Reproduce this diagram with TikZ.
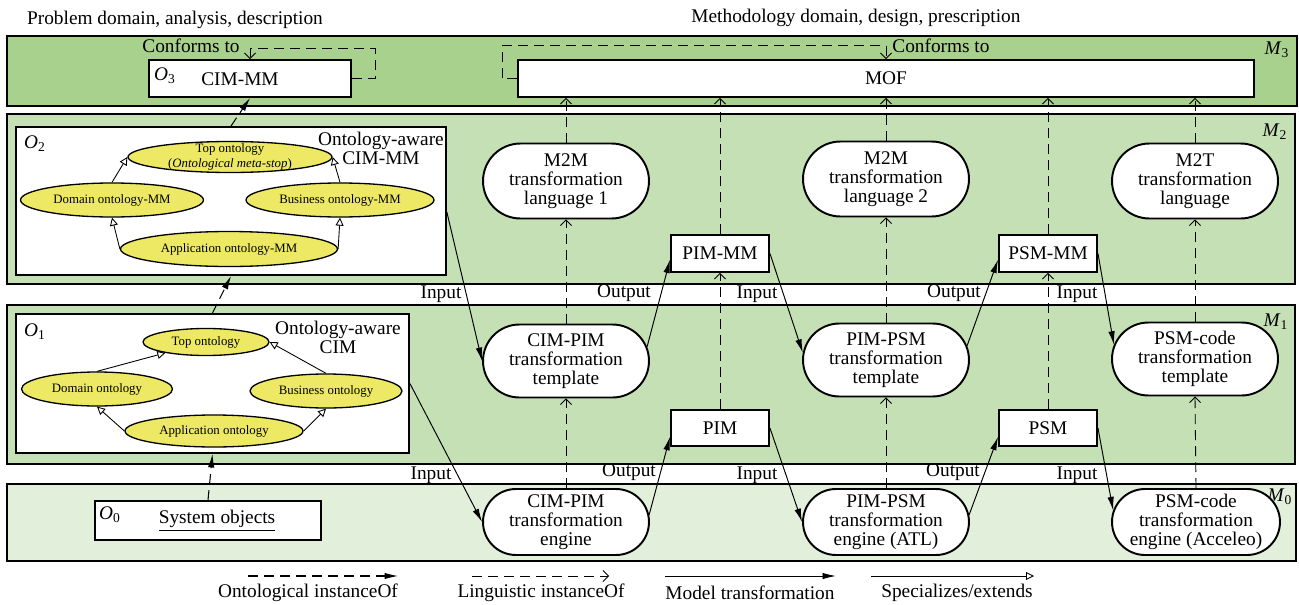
\documentclass[tikz,border=0pt]{standalone}
\usepackage{fontspec}
\setmainfont{Liberation Serif}
\usetikzlibrary{arrows.meta,positioning,shapes.geometric,shapes.misc}
\definecolor{bandthree}{HTML}{A9D18E}
\definecolor{bandtwo}{HTML}{C5E0B4}
\definecolor{bandzero}{HTML}{E2EFDA}
\definecolor{ontoyellow}{HTML}{EDE964}
\newcommand{\mainsize}{\fontsize{11}{10.9}\selectfont}
\newcommand{\ontosize}{\fontsize{7.3}{8.4}\selectfont}
\newcommand{\lvl}[2]{\textit{#1}\textsubscript{#2}}
\tikzset{
  band box/.style={draw=black, line width=1.2pt},
  white box/.style={draw=black, fill=white, line width=1.1pt, inner sep=0pt},
  pill box/.style={
    rounded rectangle,
    draw=black,
    fill=white,
    line width=1.1pt,
    minimum width=3.32cm,
    minimum height=1.5cm,
    inner sep=0pt,
    align=center,
    font=\mainsize,
  },
  onto ellipse/.style={
    ellipse,
    draw=black,
    fill=ontoyellow,
    line width=0.75pt,
    inner sep=0pt,
    align=center,
    font=\ontosize,
  },
  model arrow/.style={-{Latex[length=2.7mm,width=1.3mm]}, line width=0.55pt},
  ling arrow/.style={-{Straight Barb[length=1.1mm,width=2.2mm]}, dash pattern=on 2mm off 1.2mm, line width=0.5pt},
  onto arrow/.style={-{Latex[length=2.7mm,width=1.3mm]}, dash pattern=on 2mm off 1.2mm, line width=0.6pt},
  spec arrow/.style={-{Triangle[open,length=1.6mm,width=1.6mm]}, line width=0.5pt},
  plain text/.style={font=\mainsize, inner sep=0pt},
}

\begin{document}
\begin{tikzpicture}[x=0.02cm,y=-0.02cm]
  \useasboundingbox (0,0) rectangle (1299,605);

  % Level bands
  \fill[bandthree] (7,36) rectangle (1297,106);
  \draw[band box] (7,36) rectangle (1297,106);
  \fill[bandtwo] (7,114) rectangle (1295,284);
  \draw[band box] (7,114) rectangle (1295,284);
  \fill[bandtwo] (7,305) rectangle (1295,464);
  \draw[band box] (7,305) rectangle (1295,464);
  \fill[bandzero] (7,484) rectangle (1296,561);
  \draw[band box] (7,484) rectangle (1296,561);

  \node[plain text] (lvlthree) at (1277,50) {\lvl{M}{3}};
  \node[plain text] (lvltwo) at (1275,132) {\lvl{M}{2}};
  \node[plain text] (lvlone) at (1276,322) {\lvl{M}{1}};
  \node[plain text] (lvlzero) at (1280,497) {\lvl{M}{0}};

  \node[plain text] (probtitle) at (175,20) {Problem domain, analysis, description};
  \node[plain text] (methtitle) at (856,18) {Methodology domain, design, prescription};

  % M3: metamodels
  \node[white box, minimum width=4.04cm, minimum height=0.74cm] (cimmm) at (250,78.5) {};
  \node[plain text] (othree) at (165,76) {\lvl{O}{3}};
  \node[plain text] (cimmmtext) at (240,79) {CIM-MM};
  \node[white box, minimum width=14.72cm, minimum height=0.74cm, font=\mainsize] (mof) at (886,78.5) {MOF};
  \node[plain text] (confleft) at (191,46) {Conforms to};
  \node[plain text, anchor=west] (confright) at (892,46) {Conforms to};
  \draw[ling arrow] (cimmm.east) -- ++(23,0) -- ++(0,-30) -| (cimmm.north);
  \draw[ling arrow] (mof.west) -- ++(-15,0) -- ++(0,-33) -| (mof.north);

  % O2: ontology-aware CIM-MM
  \node[white box, minimum width=8.6cm, minimum height=2.96cm] (otwobox) at (231,201) {};
  \node[plain text] (otwo) at (35,144) {\lvl{O}{2}};
  \node[plain text, align=center] (otwotitle) at (381,148) {Ontology-aware\\CIM-MM};
  \node[onto ellipse, minimum width=4.08cm, minimum height=0.62cm,
    label={[font=\ontosize, align=center, inner sep=0pt]center:Top ontology\\(\textit{Ontological meta-stop})}] (topmm) at (230,157) {};
  \node[onto ellipse, minimum width=3.66cm, minimum height=0.68cm] (dommm) at (112,200) {Domain ontology-MM};
  \node[onto ellipse, minimum width=3.76cm, minimum height=0.68cm] (busmm) at (340,200) {Business ontology-MM};
  \node[onto ellipse, minimum width=4.34cm, minimum height=0.7cm] (appmm) at (229,249) {Application ontology-MM};
  \draw[spec arrow] (dommm.north) -- (topmm.west);
  \draw[spec arrow] (busmm.north) -- (topmm.east);
  \draw[spec arrow] (appmm.west) -- (dommm.south);
  \draw[spec arrow] (appmm.east) -- (busmm.south);

  % O1: ontology-aware CIM
  \node[white box, minimum width=7.86cm, minimum height=2.78cm] (oonebox) at (212.5,383.5) {};
  \node[plain text] (oone) at (35,332) {\lvl{O}{1}};
  \node[plain text, align=center] (oonetitle) at (338,337) {Ontology-aware\\CIM};
  \node[onto ellipse, minimum width=2.52cm, minimum height=0.54cm] (topont) at (206,342) {Top ontology};
  \node[onto ellipse, minimum width=3.02cm, minimum height=0.68cm] (domont) at (97,389) {Domain ontology};
  \node[onto ellipse, minimum width=3.04cm, minimum height=0.68cm] (busont) at (326,391) {Business ontology};
  \node[onto ellipse, minimum width=3.56cm, minimum height=0.64cm] (appont) at (214,431) {Application ontology};
  \draw[spec arrow] (domont.north) -- (topont.195);
  \draw[spec arrow] (busont.north) -- (topont.east);
  \draw[spec arrow] (appont.west) -- (domont.south);
  \draw[spec arrow] (appont.east) -- (busont.south);

  % O0: system objects
  \node[white box, minimum width=4.52cm, minimum height=0.78cm] (sysobj) at (208,520.5) {};
  \node[plain text] (ozero) at (110,515) {\lvl{O}{0}};
  \node[plain text] (sysobjtext) at (217,521) {\underline{System objects}};

  \draw[onto arrow] (sysobj.north) -- (oonebox.south);
  \draw[onto arrow] (oonebox.north) -- (otwobox.south);
  \draw[onto arrow] (otwobox.north) -- (cimmm.south);

  % Transformation languages, templates and engines
  \node[pill box] (langone) at (566,181) {M2M\\transformation\\language 1};
  \node[pill box] (langtwo) at (886,179) {M2M\\transformation\\language 2};
  \node[pill box] (langmtt) at (1195,181) {M2T\\transformation\\language};
  \node[pill box, minimum height=1.46cm] (cimpimtpl) at (566,361) {CIM-PIM\\transformation\\template};
  \node[pill box, minimum height=1.46cm] (pimpsmtpl) at (886,360) {PIM-PSM\\transformation\\template};
  \node[pill box, minimum height=1.46cm] (psmcodetpl) at (1195,359) {PSM-code\\transformation\\template};
  \node[pill box, minimum height=1.32cm] (cimpimeng) at (566,522) {CIM-PIM\\transformation\\engine};
  \node[pill box, minimum height=1.32cm] (pimpsmeng) at (886,522) {PIM-PSM\\transformation\\engine (ATL)};
  \node[pill box, minimum height=1.32cm, minimum width=3.36cm] (psmcodeeng) at (1196,522) {PSM-code\\transformation\\engine (Acceleo)};

  % Models and metamodels
  \node[white box, minimum width=1.96cm, minimum height=0.74cm, font=\mainsize] (pimmm) at (720,253.5) {PIM-MM};
  \node[white box, minimum width=1.96cm, minimum height=0.74cm, font=\mainsize] (psmmm) at (1048,253.5) {PSM-MM};
  \node[white box, minimum width=1.96cm, minimum height=0.72cm, font=\mainsize] (pim) at (720,428) {PIM};
  \node[white box, minimum width=1.96cm, minimum height=0.72cm, font=\mainsize] (psm) at (1048,428) {PSM};

  % Linguistic instanceOf
  \draw[ling arrow] (cimpimeng.north) -- (cimpimtpl.south);
  \draw[ling arrow] (cimpimtpl.north) -- (langone.south);
  \draw[ling arrow] (langone.north) -- (langone.north |- mof.south);
  \draw[ling arrow] (pim.north) -- (pimmm.south);
  \draw[ling arrow] (pimmm.north) -- (pimmm.north |- mof.south);
  \draw[ling arrow] (pimpsmeng.north) -- (pimpsmtpl.south);
  \draw[ling arrow] (pimpsmtpl.north) -- (langtwo.south);
  \draw[ling arrow] (langtwo.north) -- (langtwo.north |- mof.south);
  \draw[ling arrow] (psm.north) -- (psmmm.south);
  \draw[ling arrow] (psmmm.north) -- (psmmm.north |- mof.south);
  \draw[ling arrow] (psmcodeeng.north) -- (psmcodetpl.south);
  \draw[ling arrow] (psmcodetpl.north) -- (langmtt.south);
  \draw[ling arrow] (langmtt.north) -- (langmtt.north |- mof.south);

  % Model transformations
  \draw[model arrow] (otwobox.-3) -- (cimpimtpl.west);
  \draw[model arrow] (cimpimtpl.10) -- (pimmm.187);
  \draw[model arrow] (pimmm.east) -- (pimpsmtpl.175);
  \draw[model arrow] (pimpsmtpl.10) -- (psmmm.187);
  \draw[model arrow] (psmmm.east) -- (psmcodetpl.170);
  \draw[model arrow] (oonebox.east) -- (cimpimeng.west);
  \draw[model arrow] (cimpimeng.5) -- (pim.190);
  \draw[model arrow] (pim.east) -- (pimpsmeng.west);
  \draw[model arrow] (pimpsmeng.5) -- (psm.190);
  \draw[model arrow] (psm.east) -- (psmcodeeng.172);

  \node[plain text] (inone) at (441,294) {Input};
  \node[plain text] (outone) at (624,293) {Output};
  \node[plain text] (intwo) at (757,294) {Input};
  \node[plain text] (outtwo) at (954,293) {Output};
  \node[plain text] (inthree) at (1077,294) {Input};
  \node[plain text] (infour) at (431,475) {Input};
  \node[plain text] (outthree) at (629,472) {Output};
  \node[plain text] (infive) at (757,475) {Input};
  \node[plain text] (outfour) at (953,472) {Output};
  \node[plain text] (insix) at (1077,475) {Input};

  % Legend
  \coordinate (ontostart) at (248,576);
  \coordinate (ontoend) at (398,576);
  \coordinate (lingstart) at (472,576);
  \coordinate (lingend) at (609,576);
  \coordinate (modelstart) at (665,576);
  \coordinate (modelend) at (836,576);
  \coordinate (specstart) at (871,576);
  \coordinate (specend) at (1034,576);
  \draw[onto arrow] (ontostart) -- (ontoend);
  \draw[ling arrow] (lingstart) -- (lingend);
  \draw[model arrow] (modelstart) -- (modelend);
  \draw[spec arrow] (specstart) -- (specend);
  \node[plain text] (ontolegend) at (308,593) {Ontological instanceOf};
  \node[plain text] (linglegend) at (541,593) {Linguistic instanceOf};
  \node[plain text] (modellegend) at (750,593) {Model transformation};
  \node[plain text] (speclegend) at (957,593) {Specializes/extends};
\end{tikzpicture}
\end{document}
